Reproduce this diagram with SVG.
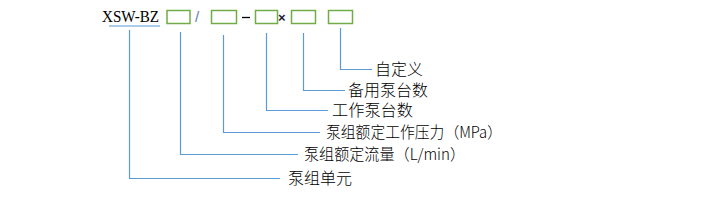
<svg xmlns="http://www.w3.org/2000/svg" width="721" height="200" viewBox="0 0 721 200">
<style>
.box{fill:none;stroke:#70AD47;stroke-width:1.5}
.ln{fill:none;stroke:#5B9BD5;stroke-width:1.2}
.lbl{font-family:"Noto Sans CJK SC","Noto Sans",sans-serif;font-size:15.5px;font-weight:300;fill:#000}
.code{font-family:"Liberation Serif",serif;font-size:16px;fill:#000}
</style>
<rect width="721" height="200" fill="#fff"/>
<g id="code">
<text class="code" x="102" y="22" textLength="57" lengthAdjust="spacingAndGlyphs">XSW-BZ</text>
<line class="ln" x1="109" y1="26" x2="160" y2="26"/>
</g>
<g id="box1"><rect class="box" x="167" y="10.5" width="23" height="13"/></g>
<g id="slash"><text x="195" y="22" style="font-family:'Liberation Sans',sans-serif;font-size:15px;fill:#5B7FB8">/</text></g>
<g id="box2"><rect class="box" x="211.5" y="10.5" width="25" height="13"/></g>
<g id="dash"><line x1="242" y1="17.5" x2="250" y2="17.5" stroke="#000" stroke-width="1.3"/></g>
<g id="box3"><rect class="box" x="255.5" y="10.5" width="22" height="13"/></g>
<g id="times"><text x="278" y="22" style="font-family:'Liberation Sans',sans-serif;font-size:13px;font-weight:bold;fill:#1a1a3a">×</text></g>
<g id="box4"><rect class="box" x="291.5" y="10.5" width="24" height="13"/></g>
<g id="box5"><rect class="box" x="328.5" y="10.5" width="24" height="13"/></g>
<g id="connectors">
<polyline class="ln" points="129.5,30 129.5,178.5 280,178.5"/>
<polyline class="ln" points="180.5,32 180.5,154.5 298,154.5"/>
<polyline class="ln" points="223.5,35 223.5,132.5 320,132.5"/>
<polyline class="ln" points="266.5,33 266.5,110.5 328,110.5"/>
<polyline class="ln" points="303.5,33 303.5,90.5 345,90.5"/>
<polyline class="ln" points="340.5,28 340.5,69.5 372,69.5"/>
</g>
<g id="label6"><text class="lbl" x="375" y="75" textLength="48" lengthAdjust="spacingAndGlyphs">自定义</text></g>
<g id="label5"><text class="lbl" x="348" y="96" textLength="80" lengthAdjust="spacingAndGlyphs">备用泵台数</text></g>
<g id="label4"><text class="lbl" x="332" y="116" textLength="81" lengthAdjust="spacingAndGlyphs">工作泵台数</text></g>
<g id="label3"><text class="lbl" x="326" y="138" textLength="176" lengthAdjust="spacingAndGlyphs">泵组额定工作压力（MPa）</text></g>
<g id="label2"><text class="lbl" x="304" y="160" textLength="161" lengthAdjust="spacingAndGlyphs">泵组额定流量（L/min）</text></g>
<g id="label1"><text class="lbl" x="288" y="184" textLength="64" lengthAdjust="spacingAndGlyphs">泵组单元</text></g>
</svg>
